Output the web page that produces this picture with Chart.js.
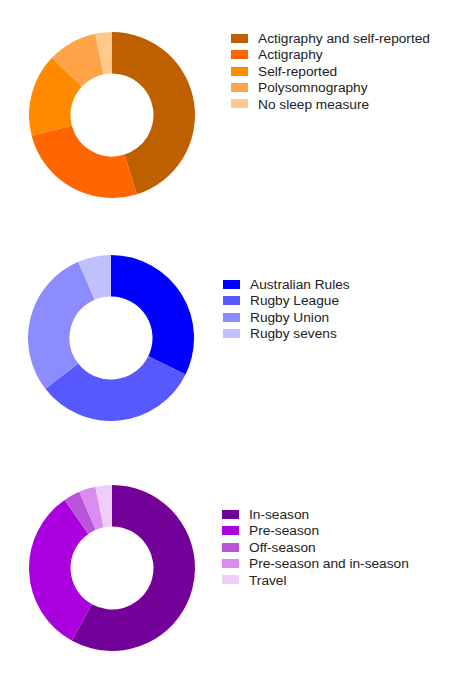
<!DOCTYPE html>
<html>
<head>
<meta charset="utf-8">
<script src="https://cdn.jsdelivr.net/npm/chart.js@4.4.1/dist/chart.umd.min.js"></script>
<style>
  html, body { margin: 0; padding: 0; background: #fff; }
  body { width: 464px; height: 680px; position: relative; overflow: hidden; font-family: "Liberation Sans", Arial, sans-serif; }
  .wrap { position: absolute; width: 166px; height: 166px; }
  .legend { position: absolute; font-size: 13.7px; color: #222; }
  .row { height: 16.4px; line-height: 16.4px; white-space: nowrap; position: relative; }
  .sw { display: inline-block; width: 17px; height: 9px; vertical-align: middle; margin-right: 10px; position: relative; top: -1px; }
</style>
</head>
<body>
<div class="wrap" style="left:29px; top:32px;"><canvas id="c1"></canvas></div>
<div class="wrap" style="left:28px; top:255px;"><canvas id="c2"></canvas></div>
<div class="wrap" style="left:29px; top:485px;"><canvas id="c3"></canvas></div>
<div class="legend" id="l1" style="left:231px; top:31px;"></div>
<div class="legend" id="l2" style="left:223px; top:277px;"></div>
<div class="legend" id="l3" style="left:222px; top:507px;"></div>
<script>
// Chart 1: sleep measure
const sleepLabels = ["Actigraphy and self-reported", "Actigraphy", "Self-reported", "Polysomnography", "No sleep measure"];
const sleepValues = [14, 8, 5, 3, 1];
const sleepColors = ["#BF6000", "#FF6600", "#FF8A00", "#FFA448", "#FFC98E"];

// Chart 2: sport
const sportLabels = ["Australian Rules", "Rugby League", "Rugby Union", "Rugby sevens"];
const sportValues = [10, 10, 9, 2];
const sportColors = ["#0000FF", "#5858FF", "#8C8CFF", "#C0C0FF"];

// Chart 3: season phase
const phaseLabels = ["In-season", "Pre-season", "Off-season", "Pre-season and in-season", "Travel"];
const phaseValues = [18, 10, 1, 1, 1];
const phaseColors = ["#730099", "#AA00DD", "#B855D8", "#DB8CF0", "#EECDF6"];

function makeDonut(id, labels, values, colors) {
  new Chart(document.getElementById(id), {
    type: 'doughnut',
    data: { labels: labels, datasets: [{ data: values, backgroundColor: colors, borderWidth: 0, hoverOffset: 0, offset: 0 }] },
    options: {
      responsive: true, maintainAspectRatio: false, animation: false,
      cutout: '50%',
      layout: { padding: 0 },
      plugins: { legend: { display: false }, tooltip: { enabled: false } }
    }
  });
}
function makeLegend(id, labels, colors) {
  const el = document.getElementById(id);
  labels.forEach((t, i) => {
    const r = document.createElement('div'); r.className = 'row';
    const s = document.createElement('span'); s.className = 'sw'; s.style.background = colors[i];
    r.appendChild(s); r.appendChild(document.createTextNode(t));
    el.appendChild(r);
  });
}
makeDonut('c1', sleepLabels, sleepValues, sleepColors);
makeDonut('c2', sportLabels, sportValues, sportColors);
makeDonut('c3', phaseLabels, phaseValues, phaseColors);
makeLegend('l1', sleepLabels, sleepColors);
makeLegend('l2', sportLabels, sportColors);
makeLegend('l3', phaseLabels, phaseColors);
</script>
</body>
</html>
